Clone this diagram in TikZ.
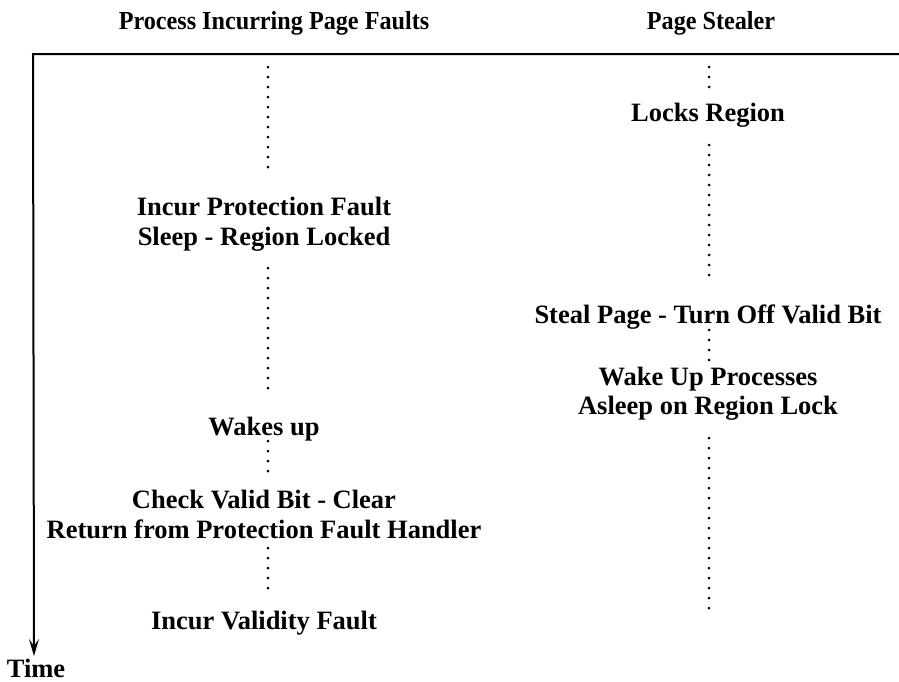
\documentclass[tikz,border=0pt]{standalone}
\usepackage{fontspec}
\usepackage{graphicx}
\setmainfont{Liberation Serif}
\usetikzlibrary{arrows.meta}
\newcommand{\hdrtext}[1]{\scalebox{0.93}[1]{#1}}
\begin{document}
\begin{tikzpicture}[x=1pt,y=-1pt,
  lbl/.style={font=\fontsize{26.5}{29}\selectfont\bfseries, inner sep=0pt, anchor=base},
  hdr/.style={font=\fontsize{26}{28}\selectfont\bfseries, inner sep=0pt, anchor=base},
  dots/.style={line width=3pt, line cap=round, dash pattern=on 0pt off 10pt},
  axis/.style={line width=2pt, line join=miter}]
\useasboundingbox (0,0) rectangle (899,681);
% headers
\node[hdr] (h1) at (274,29) {\hdrtext{Process Incurring Page Faults}};
\node[hdr] (h2) at (711,29) {\hdrtext{Page Stealer}};
% axes
\coordinate (tr) at (899,54);
\coordinate (tl) at (33,54);
\coordinate (tb) at (34,656);
\draw[axis, -{Stealth[length=17pt,width=10pt,inset=7pt]}] (tr) -- (tl) -- (tb);
\node[lbl] (time) at (36,677) {Time};
% left column
\node[lbl] (incA) at (264,215) {Incur Protection Fault};
\node[lbl] (incB) at (264,245) {Sleep - Region Locked};
\node[lbl] (wakes) at (264,435) {Wakes up};
\node[lbl] (chkA) at (264,508) {Check Valid Bit - Clear};
\node[lbl] (chkB) at (264,538) {Return from Protection Fault Handler};
\node[lbl] (ivf) at (264,629) {Incur Validity Fault};
% right column
\node[lbl] (locks) at (708,121) {Locks Region};
\node[lbl] (steal) at (708,323) {Steal Page - Turn Off Valid Bit};
\node[lbl] (wkA) at (708,385) {Wake Up Processes};
\node[lbl] (wkB) at (708,414) {Asleep on Region Lock};
% dotted lifelines
\coordinate (l1a) at (268,67);  \coordinate (l1b) at (268,177);
\coordinate (l2a) at (268,268); \coordinate (l2b) at (268,395);
\coordinate (l3a) at (268,441); \coordinate (l3b) at (268,472);
\coordinate (l4a) at (268,548); \coordinate (l4b) at (268,596);
\coordinate (r1a) at (709,67);  \coordinate (r1b) at (709,97);
\coordinate (r2a) at (709,145); \coordinate (r2b) at (709,283);
\coordinate (r3a) at (709,330); \coordinate (r3b) at (709,362);
\coordinate (r4a) at (709,438); \coordinate (r4b) at (709,612);
\foreach \s in {l1,l2,l3,l4,r1,r2,r3,r4}
  \draw[dots] (\s a) -- (\s b);
\end{tikzpicture}
\end{document}
